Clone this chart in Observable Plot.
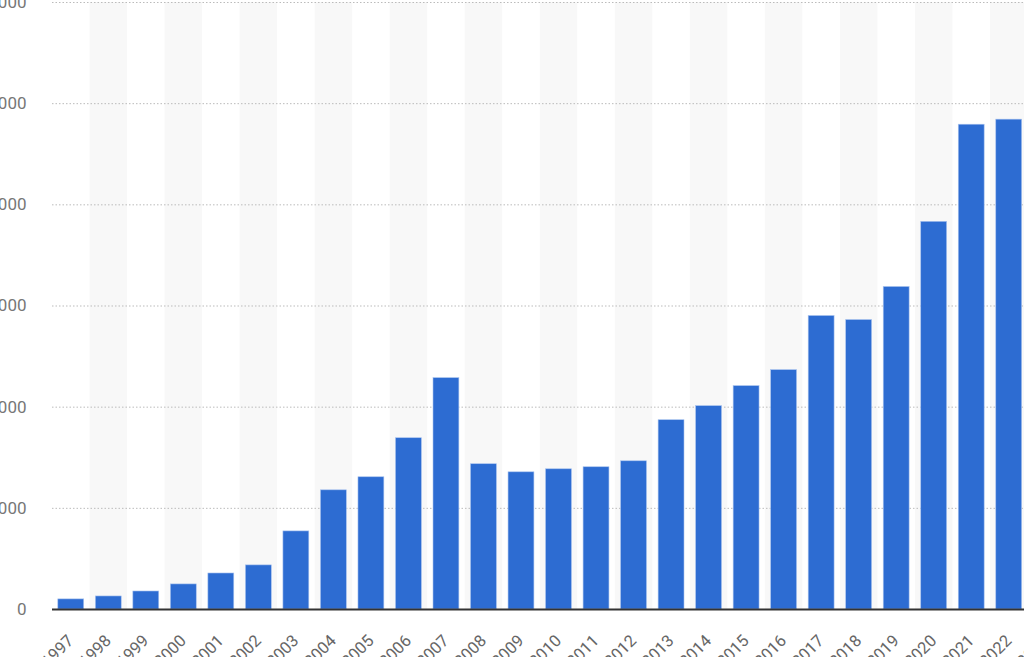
<!DOCTYPE html>
<html>
<head>
<meta charset="utf-8">
<script src="https://cdn.jsdelivr.net/npm/d3@7"></script>
<script src="https://cdn.jsdelivr.net/npm/@observablehq/plot@0.6"></script>
<style>
  html, body { margin: 0; padding: 0; background: #fff; overflow: hidden; width: 1024px; height: 657px; }
  #chart { position: absolute; left: -30px; top: 0; width: 1095px; }
  #chart svg { font-family: Roboto, "Liberation Sans", sans-serif; max-width: none !important; display: block; }
</style>
</head>
<body>
<div id="chart"></div>
<script>
// Category axis (2023 only shows as a cut-off tick label at the right edge)
const years = [1997,1998,1999,2000,2001,2002,2003,2004,2005,2006,2007,2008,2009,2010,2011,2012,2013,2014,2015,2016,2017,2018,2019,2020,2021,2022,2023];
const barYears = [1997,1998,1999,2000,2001,2002,2003,2004,2005,2006,2007,2008,2009,2010,2011,2012,2013,2014,2015,2016,2017,2018,2019,2020,2021,2022];
const values = [100,129,178,248,356,436,772,1178,1307,1693,2287,1436,1356,1386,1406,1465,1871,2010,2208,2366,2901,2861,3188,3832,4792,4842];
const yTicks = [0,1000,2000,3000,4000,5000,6000];

const data = barYears.map((y, i) => ({year: String(y), value: values[i]}));
const shaded = years.filter(y => y % 2 === 0).map(y => ({year: String(y)}));

const chart = Plot.plot({
  width: 1095,
  height: 700,
  marginLeft: 82,
  marginRight: 0,
  marginTop: 2,
  marginBottom: 91,
  style: {fontSize: "17px", color: "#777", background: "#fff"},
  x: {domain: years.map(String), paddingInner: 0.31, paddingOuter: 0.155, round: false, label: null, axis: null},
  y: {domain: [0, 6000], label: null},
  marks: [
    Plot.barY(shaded, {x: "year", y1: 0, y2: 6000, fill: "#f8f8f8", insetLeft: -5.8, insetRight: -5.8}),
    Plot.ruleY(yTicks.filter(d => d > 0), {stroke: "#bbb", strokeDasharray: "1.5,2", strokeWidth: 1}),
    Plot.barY(data, {x: "year", y: "value", fill: "#2d6cd2", stroke: "#a9c3ef", strokeWidth: 0.6}),
    Plot.ruleY([0], {stroke: "#333", strokeWidth: 2}),
    Plot.axisY({ticks: yTicks, tickSize: 0, tickPadding: 26, tickFormat: d3.format(","), fill: "#777"}),
    Plot.text(years.map(String), {x: d => d, text: d => d, frameAnchor: "bottom", rotate: -45, textAnchor: "end", lineAnchor: "top", dx: -5, dy: 24, fill: "#666", fontSize: 16.5})
  ]
});
document.getElementById("chart").appendChild(chart);
</script>
</body>
</html>
